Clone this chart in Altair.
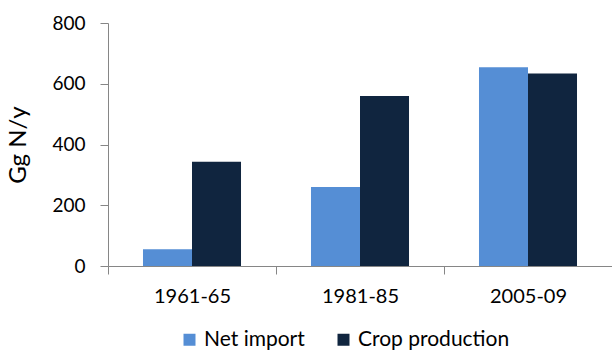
import altair as alt
import pandas as pd

periods = ["1961-65", "1981-85", "2005-09"]
series = ["Net import", "Crop production"]
net_import = [55, 260, 654]
crop_production = [343, 560, 634]
colors = ["#558ED5", "#10253F"]

rows = []
for i, p in enumerate(periods):
    rows.append({"period": p, "series": series[0], "value": net_import[i]})
    rows.append({"period": p, "series": series[1], "value": crop_production[i]})
df = pd.DataFrame(rows)

FONT = "Lato"

chart = alt.Chart(df).mark_bar().encode(
    x=alt.X("period:N", sort=periods, title=None,
            scale=alt.Scale(paddingInner=0, paddingOuter=0),
            axis=alt.Axis(labelAngle=0, tickBand="extent", tickSize=8,
                          domainColor="#868686", tickColor="#868686",
                          labelFontSize=20, labelColor="#000000", labelPadding=12,
                          labelFont=FONT)),
    xOffset=alt.XOffset("series:N", sort=series,
                        scale=alt.Scale(paddingInner=0, paddingOuter=0.714)),
    y=alt.Y("value:Q", title="Gg N/y",
            scale=alt.Scale(domain=[0, 800]),
            axis=alt.Axis(values=[0, 200, 400, 600, 800], grid=False, tickSize=8,
                          domainColor="#868686", tickColor="#868686",
                          labelFontSize=19, labelColor="#000000", labelPadding=15,
                          labelFont=FONT, titleFont=FONT, titleFontSize=24,
                          titleFontWeight="normal", titleColor="#000000",
                          titlePadding=21)),
    color=alt.Color("series:N", sort=series,
                    scale=alt.Scale(domain=series, range=colors),
                    legend=alt.Legend(title=None, orient="none", direction="horizontal",
                                      legendX=71, legendY=306,
                                      symbolType="square", symbolSize=144,
                                      symbolStrokeWidth=0,
                                      labelFont=FONT, labelFontSize=21,
                                      labelColor="#000000", columnPadding=28,
                                      labelOffset=4)),
).properties(
    width=504, height=243,
    autosize=alt.AutoSizeParams(type="none"),
    padding={"left": 108, "top": 23, "right": 0, "bottom": 86},
).configure_view(stroke=None)

chart.save("out.html", embed_options={"renderer": "svg", "actions": False})
